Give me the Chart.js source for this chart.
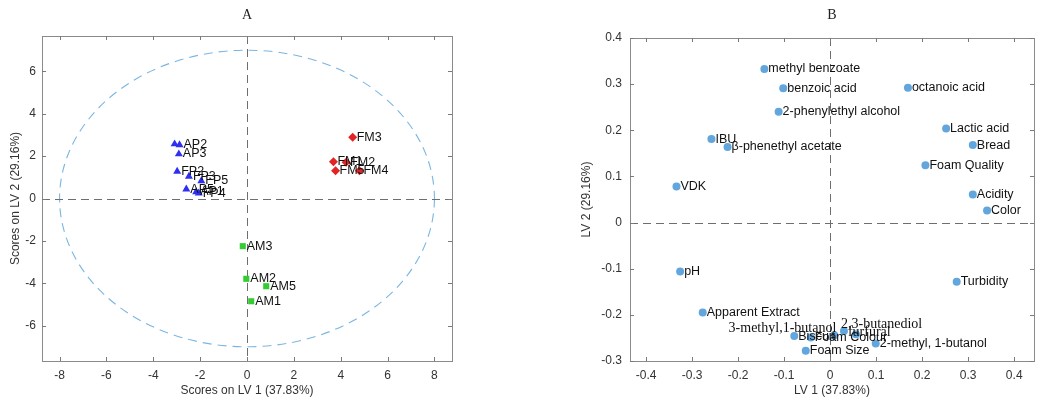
<!DOCTYPE html>
<html>
<head>
<meta charset="utf-8">
<script src="https://cdn.jsdelivr.net/npm/chart.js@4.4.1/dist/chart.umd.min.js"></script>
<style>
  body { margin: 0; background: #fff; }
  #chartA { position: absolute; left: 0; top: 0; }
  #chartB { position: absolute; left: 520px; top: 0; }
</style>
</head>
<body>
<canvas id="chartA" width="520" height="401"></canvas>
<canvas id="chartB" width="518" height="401"></canvas>
<script>
// ---- graphique A : scores
const nomsP = ["", "AP2", "AP3", "FP2", "FP3", "FP5", "AP5", "AP1", "FP4"];
const xP = [-3.09, -2.88, -2.91, -2.98, -2.48, -1.95, -2.59, -2.17, -2.06];
const yP = [2.57, 2.53, 2.10, 1.28, 1.04, 0.83, 0.44, 0.31, 0.25];

const nomsFM = ["FM3", "FM1", "FM2", "FM5", "FM4"];
const xFM = [4.51, 3.69, 4.23, 3.78, 4.80];
const yFM = [2.89, 1.73, 1.71, 1.31, 1.31];

const nomsAM = ["AM3", "AM2", "AM5", "AM1"];
const xAM = [-0.18, -0.03, 0.82, 0.18];
const yAM = [-2.25, -3.79, -4.14, -4.85];

const ticksXA = [-8, -6, -4, -2, 0, 2, 4, 6, 8];
const ticksYA = [-6, -4, -2, 0, 2, 4, 6];

// ---- graphique B : loadings
const nomsB = ["methyl benzoate", "benzoic acid", "2-phenylethyl alcohol", "IBU", "\u03b2-phenethyl acetate", "VDK",
  "octanoic acid", "Lactic acid", "Bread", "Foam Quality", "Acidity", "Color", "Turbidity", "pH",
  "Apparent Extract", "Biscuit", "Foam Colour", "3-methyl,1-butanol", "2,3-butanediol", "furfural",
  "2-methyl, 1-butanol", "Foam Size"];
const xB = [-0.143, -0.102, -0.112, -0.258, -0.223, -0.334,
  0.169, 0.252, 0.310, 0.207, 0.310, 0.341, 0.275, -0.326,
  -0.277, -0.078, -0.042, 0.009, 0.030, 0.056,
  0.099, -0.053];
const yB = [0.333, 0.291, 0.240, 0.181, 0.164, 0.078,
  0.292, 0.204, 0.168, 0.124, 0.061, 0.026, -0.128, -0.106,
  -0.195, -0.246, -0.249, -0.244, -0.235, -0.242,
  -0.262, -0.278];

const ticksXB = [-0.4, -0.3, -0.2, -0.1, 0, 0.1, 0.2, 0.3, 0.4];
const ticksYB = [-0.3, -0.2, -0.1, 0, 0.1, 0.2, 0.3, 0.4];

const sans = '"Liberation Sans", Arial, sans-serif';
const serif = '"Liberation Serif", "Times New Roman", serif';

function pts(xs, ys) {
    return xs.map((x, i) => ({ x: x, y: ys[i] }));
}

// cadre, graduations vers l'intérieur, lignes pointillées, ellipse, étiquettes
const decor = {
    id: "decor",
    beforeDatasetsDraw(chart, args, opts) {
        const ctx = chart.ctx;
        const a = chart.chartArea;
        const sx = chart.scales.x, sy = chart.scales.y;
        ctx.save();
        // ellipse
        if (opts.ellipse) {
            const cx = sx.getPixelForValue(0), cy = sy.getPixelForValue(0);
            const rx = sx.getPixelForValue(opts.ellipse[0]) - cx;
            const ry = cy - sy.getPixelForValue(opts.ellipse[1]);
            ctx.strokeStyle = "#7ab6e3";
            ctx.lineWidth = 1.1;
            ctx.setLineDash([9, 6]);
            ctx.beginPath();
            ctx.ellipse(cx, cy, rx, ry, 0, 0, Math.PI * 2);
            ctx.stroke();
        }
        // lignes zéro
        ctx.lineWidth = 1;
        ctx.strokeStyle = "#6e6e6e";
        ctx.setLineDash([8, 5]);
        ctx.beginPath();
        const x0 = Math.round(sx.getPixelForValue(0)) + 0.5;
        const y0 = Math.round(sy.getPixelForValue(0)) + 0.5;
        ctx.moveTo(x0, a.top); ctx.lineTo(x0, a.bottom);
        ctx.moveTo(a.left, y0); ctx.lineTo(a.right, y0);
        ctx.stroke();
        ctx.setLineDash([]);
        // cadre
        ctx.strokeStyle = "#8a8a8a";
        ctx.strokeRect(Math.round(a.left) + 0.5, Math.round(a.top) + 0.5,
            Math.round(a.right - a.left), Math.round(a.bottom - a.top));
        // graduations
        ctx.strokeStyle = "#7a7a7a";
        ctx.beginPath();
        sx.ticks.forEach(t => {
            const p = Math.round(sx.getPixelForValue(t.value)) + 0.5;
            ctx.moveTo(p, a.bottom); ctx.lineTo(p, a.bottom - 4);
            ctx.moveTo(p, a.top); ctx.lineTo(p, a.top + 4);
        });
        sy.ticks.forEach(t => {
            const p = Math.round(sy.getPixelForValue(t.value)) + 0.5;
            ctx.moveTo(a.left, p); ctx.lineTo(a.left + 4, p);
            ctx.moveTo(a.right, p); ctx.lineTo(a.right - 4, p);
        });
        ctx.stroke();
        // titre
        ctx.fillStyle = "#222";
        ctx.font = "14px " + serif;
        ctx.textAlign = "center";
        ctx.textBaseline = "middle";
        ctx.fillText(opts.titre, (a.left + a.right) / 2, 15);
        ctx.restore();
    },
    afterDatasetsDraw(chart, args, opts) {
        const ctx = chart.ctx;
        const place = opts.placement || {};
        ctx.save();
        ctx.fillStyle = "#111";
        ctx.textBaseline = "middle";
        chart.data.datasets.forEach((ds, i) => {
            const meta = chart.getDatasetMeta(i);
            meta.data.forEach((pt, j) => {
                const nom = ds.noms[j];
                if (!nom) return;
                const pl = place[nom] || {};
                ctx.font = pl.serif ? "14px " + serif : "12.5px " + sans;
                ctx.textAlign = pl.align || "left";
                ctx.fillText(nom, pt.x + (pl.dx !== undefined ? pl.dx : 4), pt.y + (pl.dy || 0));
            });
        });
        ctx.restore();
    }
};

function axe(min, max, ticks, titre, horiz, titrePad) {
    return {
        type: "linear",
        min: min,
        max: max,
        afterBuildTicks: s => { s.ticks = ticks.map(v => ({ value: v })); },
        afterFit: s => {
            if (horiz) { s.height = 40; } else { s.width = titrePad.w; }
        },
        grid: { display: false, drawTicks: false },
        border: { display: false },
        ticks: {
            padding: horiz ? 7 : titrePad.tp,
            color: "#333",
            font: { size: 12, family: sans },
            callback: v => String(v)
        },
        title: {
            display: true,
            text: titre,
            color: "#333",
            font: { size: 12, family: sans },
            padding: horiz ? { top: 0, bottom: 3 } : { top: titrePad.p, bottom: 0 }
        }
    };
}

new Chart(document.getElementById("chartA"), {
    type: "scatter",
    data: {
        datasets: [
            { data: pts(xP, yP), noms: nomsP, pointStyle: "triangle", radius: 4.6,
              backgroundColor: "#2f2ff2", borderColor: "#2f2ff2", borderWidth: 0 },
            { data: pts(xFM, yFM), noms: nomsFM, pointStyle: "rectRot", radius: 4.5,
              backgroundColor: "#e32424", borderColor: "#e32424", borderWidth: 0 },
            { data: pts(xAM, yAM), noms: nomsAM, pointStyle: "rect", radius: 4.3,
              backgroundColor: "#33cc33", borderColor: "#33cc33", borderWidth: 0 }
        ]
    },
    options: {
        responsive: false,
        animation: false,
        layout: { padding: { top: 36, right: 68, bottom: 0, left: 0 } },
        scales: {
            x: axe(-8.75, 8.75, ticksXA, "Scores on LV 1 (37.83%)", true),
            y: axe(-7.67, 7.67, ticksYA, "Scores on LV 2 (29.16%)", false, { w: 42, tp: 6, p: 8 })
        },
        plugins: {
            legend: { display: false },
            tooltip: { enabled: false },
            decor: { titre: "A", ellipse: [8, 7] }
        }
    },
    plugins: [decor]
});

new Chart(document.getElementById("chartB"), {
    type: "scatter",
    data: {
        datasets: [
            { data: pts(xB, yB), noms: nomsB, pointStyle: "circle", radius: 4,
              backgroundColor: "#62a6dd", borderColor: "#62a6dd", borderWidth: 0 }
        ]
    },
    options: {
        responsive: false,
        animation: false,
        layout: { padding: { top: 38, right: 2, bottom: 0, left: 0 } },
        scales: {
            x: axe(-0.435, 0.443, ticksXB, "LV 1 (37.83%)", true),
            y: axe(-0.3, 0.4, ticksYB, "LV 2 (29.16%)", false, { w: 110, tp: 8, p: 59 })
        },
        plugins: {
            legend: { display: false },
            tooltip: { enabled: false },
            decor: {
                titre: "B",
                placement: {
                    "3-methyl,1-butanol": { serif: true, align: "right", dx: 2, dy: -7 },
                    "2,3-butanediol": { serif: true, dx: -3, dy: -7 },
                    "furfural": { serif: true, dx: -8, dy: -2 }
                }
            }
        }
    },
    plugins: [decor]
});
</script>
</body>
</html>
